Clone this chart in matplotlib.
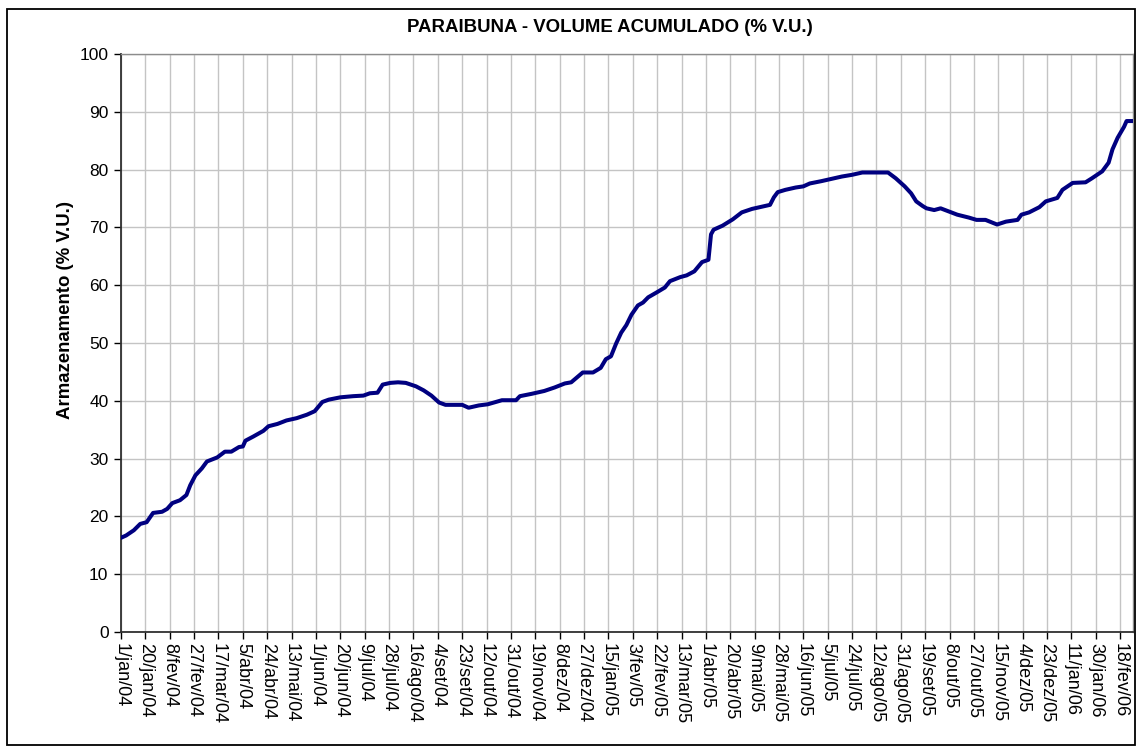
import matplotlib
matplotlib.use('Agg')
from matplotlib import pyplot as plt
from matplotlib.patches import Rectangle

plt.rcParams['font.family'] = ['Liberation Sans', 'DejaVu Sans']

# dias contados a partir de 1/jan/04 e volume (% V.U.)
dias = [0, 4, 10, 15, 20, 25, 32, 36, 40, 46, 51, 54, 58, 63, 67, 75, 81, 86, 92, 95,
        97, 103, 111, 115, 122, 129, 137, 145, 151, 157, 162, 171, 181, 189, 194, 200,
        204, 210, 216, 222, 230, 236, 242, 248, 253, 266, 271, 279, 286, 297, 308, 311,
        320, 330, 338, 346, 351, 360, 368, 374, 378, 382, 386, 390, 394, 398, 403, 407,
        411, 418, 424, 428, 436, 441, 447, 453, 458, 460, 462, 469, 477, 484, 492, 500,
        506, 509, 512, 518, 526, 532, 537, 546, 554, 562, 570, 578, 589, 598, 604, 611,
        616, 620, 625, 628, 634, 639, 646, 652, 661, 667, 674, 683, 690, 699, 702, 708,
        716, 721, 730, 734, 742, 752, 757, 765, 770, 773, 777, 782, 784, 788]
volume = [16.3, 16.7, 17.6, 18.7, 19.0, 20.6, 20.8, 21.3, 22.3, 22.8, 23.7, 25.4, 27.1,
          28.3, 29.5, 30.2, 31.2, 31.2, 32.0, 32.1, 33.1, 33.8, 34.8, 35.6, 36.0, 36.6,
          37.0, 37.6, 38.2, 39.8, 40.2, 40.6, 40.8, 40.9, 41.3, 41.4, 42.8, 43.1, 43.2,
          43.1, 42.5, 41.8, 40.9, 39.7, 39.3, 39.3, 38.8, 39.2, 39.4, 40.1, 40.1, 40.8,
          41.2, 41.7, 42.3, 43.0, 43.2, 44.9, 44.9, 45.7, 47.2, 47.7, 49.9, 51.8, 53.1,
          54.9, 56.5, 57.0, 57.9, 58.8, 59.6, 60.7, 61.4, 61.7, 62.4, 64.0, 64.4, 68.8,
          69.6, 70.3, 71.4, 72.6, 73.2, 73.6, 73.9, 75.2, 76.1, 76.5, 76.9, 77.1, 77.6,
          78.0, 78.4, 78.8, 79.1, 79.5, 79.5, 79.5, 78.5, 77.1, 75.9, 74.5, 73.7, 73.3,
          73.0, 73.3, 72.7, 72.2, 71.7, 71.3, 71.3, 70.5, 71.0, 71.3, 72.2, 72.6, 73.5,
          74.5, 75.1, 76.5, 77.7, 77.8, 78.5, 79.7, 81.2, 83.5, 85.5, 87.4, 88.4, 88.4]

rotulos = ['1/jan/04', '20/jan/04', '8/fev/04', '27/fev/04', '17/mar/04', '5/abr/04',
           '24/abr/04', '13/mai/04', '1/jun/04', '20/jun/04', '9/jul/04', '28/jul/04',
           '16/ago/04', '4/set/04', '23/set/04', '12/out/04', '31/out/04', '19/nov/04',
           '8/dez/04', '27/dez/04', '15/jan/05', '3/fev/05', '22/fev/05', '13/mar/05',
           '1/abr/05', '20/abr/05', '9/mai/05', '28/mai/05', '16/jun/05', '5/jul/05',
           '24/jul/05', '12/ago/05', '31/ago/05', '19/set/05', '8/out/05', '27/out/05',
           '15/nov/05', '4/dez/05', '23/dez/05', '11/jan/06', '30/jan/06', '18/fev/06']
passo = 19

fig = plt.figure(figsize=(11.38, 7.51), dpi=100)
ax = fig.add_axes([121/1138, 1-632/751, (1133-121)/1138, (632-54)/751])

ax.plot(dias, volume, color='#000080', lw=2.9, solid_joinstyle='round', zorder=3)

ax.set_xlim(0, 789)
ax.set_ylim(0, 100)
ax.set_yticks(range(0, 101, 10))
ax.set_xticks([i*passo for i in range(len(rotulos))])
ax.set_xticklabels(rotulos, rotation=270, fontsize=13, va='top', ha='center')
ax.tick_params(axis='y', labelsize=12.5, direction='out', length=5, width=1, pad=4)
ax.tick_params(axis='x', direction='out', length=5, width=1, pad=3)
ax.grid(True, color='#c4c4c4', lw=1)
ax.set_axisbelow(True)
for s in ['left', 'bottom']:
    ax.spines[s].set_color('#303030')
    ax.spines[s].set_linewidth(1.3)
for s in ['top', 'right']:
    ax.spines[s].set_color('#8c8c8c')
    ax.spines[s].set_linewidth(1)

fig.text(65/1138, 1-310/751, 'Armazenamento (% V.U.)', fontsize=13.4, fontweight='bold',
         rotation=90, ha='center', va='center')
fig.text(610/1138, 1-27/751, 'PARAIBUNA - VOLUME ACUMULADO (% V.U.)', fontsize=13.4,
         fontweight='bold', ha='center', va='center')

fig.patches.append(Rectangle((7/1138, 1-745/751), (1135-7)/1138, (745-9)/751,
                             transform=fig.transFigure, fill=False, ec='black', lw=1.3))

fig.savefig('out.png', dpi=100)
